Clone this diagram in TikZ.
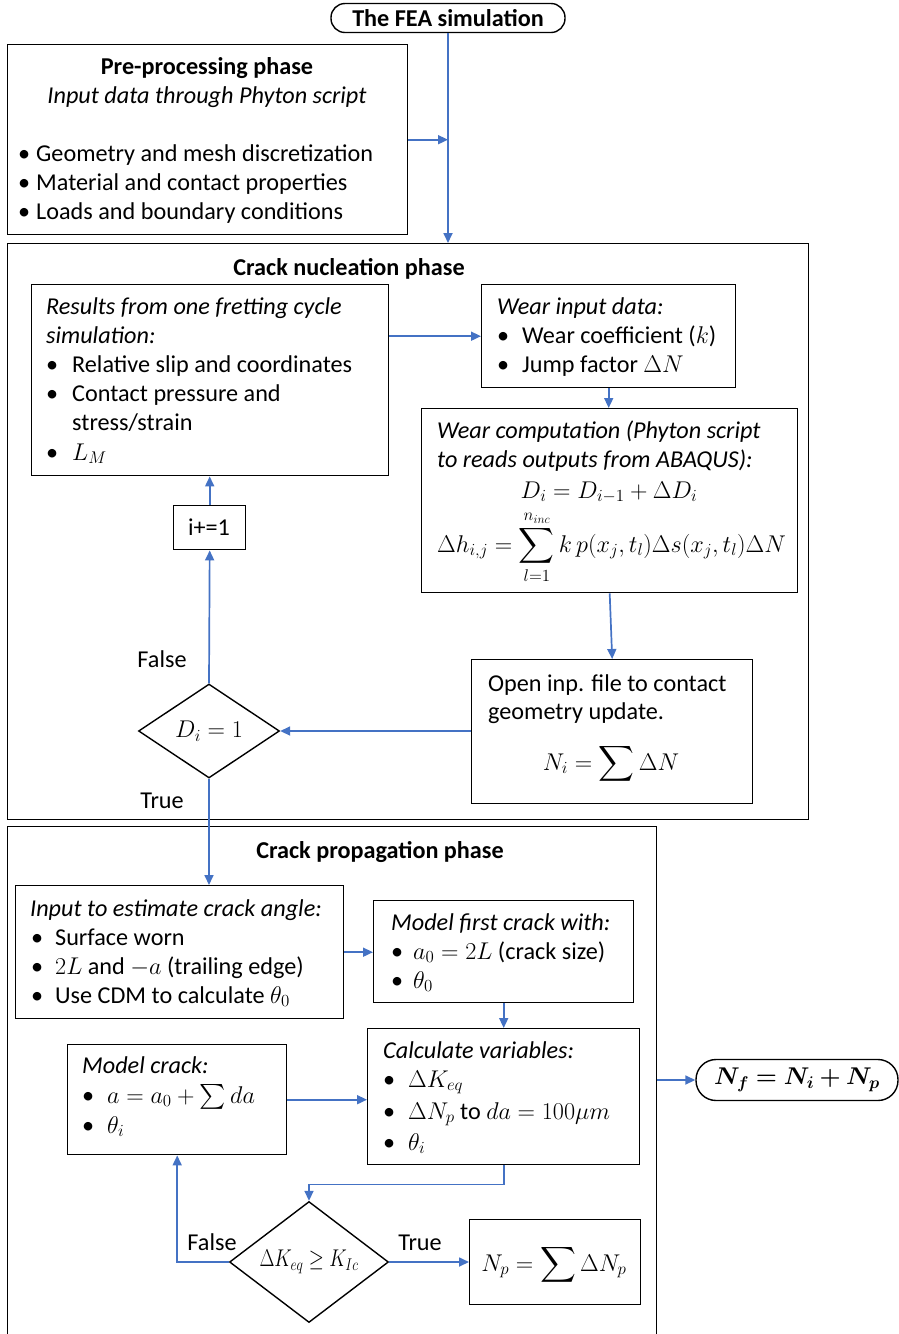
\RequirePackage{fix-cm}
\documentclass[tikz,border=0pt]{standalone}
\usepackage{amsmath}
\usepackage{bm}
\usepackage[no-math]{fontspec}
\setmainfont{Carlito}
\usetikzlibrary{arrows.meta,shapes.geometric}
\definecolor{flow}{HTML}{4472C4}
\newcommand\fs{\fontsize{24.2}{29}\selectfont}
% one line of text: name, x, baseline y, text
\newcommand\say[4]{\node[txt] (#1) at (#2,#3) {#4};}
% one bulleted line: name, x, baseline y, indent, text
\newcommand\pointline[5]{\node[txt] (#1) at (#2,#3) {\makebox[#4pt][l]{\textbullet}#5};}
\tikzset{
  frame/.style={draw, line width=1.4pt, inner sep=0pt, anchor=north west},
  term/.style={draw, line width=1.4pt, inner sep=0pt, font=\fs},
  decision/.style={draw, line width=1.4pt, diamond, aspect=1.3, inner sep=0pt, font=\fs},
  txt/.style={inner sep=0pt, anchor=base west, font=\fs},
  ctxt/.style={inner sep=0pt, anchor=base, font=\fs},
  link/.style={draw=flow, line width=1.7pt, -{Triangle[length=10pt,width=9pt]}},
}
\begin{document}
\begin{tikzpicture}[x=1pt,y=-1pt]
\useasboundingbox (0,0) rectangle (899,1334);
\clip (0,0) rectangle (899,1334);

% ---------- start ----------
\node[term, rounded corners=14pt, minimum width=234, minimum height=29] (start) at (448,18) {\textbf{The FEA simulation}};

% ---------- pre-processing ----------
\node[frame, minimum width=400, minimum height=190] (pre) at (7,44) {};
\node[ctxt] (preT) at (207,74) {\textbf{Pre-processing phase}};
\node[ctxt] (preS) at (207,103) {\textit{Input data through Phyton script}};
\pointline{preA}{18}{161}{18}{Geometry and mesh discretization}
\pointline{preB}{18}{190}{18}{Material and contact properties}
\pointline{preC}{18}{219}{18}{Loads and boundary conditions}

% ---------- crack nucleation ----------
\node[frame, minimum width=801, minimum height=576] (nuc) at (7,243) {};
\node[ctxt] (nucT) at (349,275) {\textbf{Crack nucleation phase}};

\node[frame, minimum width=357, minimum height=191] (res) at (31,284) {};
\say{resA}{46}{314}{\textit{Results from one fretting cycle}}
\say{resB}{46}{343}{\textit{simulation:}}
\pointline{resC}{46}{372}{26}{Relative slip and coordinates}
\pointline{resD}{46}{401}{26}{Contact pressure and}
\say{resE}{72}{430}{stress/strain}
\pointline{resF}{46}{460}{26}{$L_M$}

\node[frame, minimum width=254, minimum height=103] (wip) at (481,284) {};
\say{wipA}{497}{314}{\textit{Wear input data:}}
\pointline{wipB}{497}{343}{25}{Wear coefficient ($k$)}
\pointline{wipC}{497}{372}{25}{Jump factor $\Delta N$}

\node[frame, minimum width=376, minimum height=184] (wcp) at (421,408) {};
\say{wcpA}{437}{438}{\textit{Wear computation (Phyton script}}
\say{wcpB}{437}{467}{\textit{to reads outputs from ABAQUS):}}
\node[ctxt] (wcpC) at (609,498) {$D_i = D_{i-1} + \Delta D_i$};
\say{wcpD}{437}{552}{$\displaystyle \Delta h_{i,j} = \sum_{l=1}^{n_{inc}} k\,p(x_j,t_l)\Delta s(x_j,t_l)\Delta N$}

\node[frame, minimum width=281, minimum height=144] (opn) at (471,659) {};
\say{opnA}{488}{691}{Open inp. file to contact}
\say{opnB}{488}{719}{geometry update.}
\node[ctxt] (opnC) at (611,770) {$\displaystyle N_i = \sum \Delta N$};

\node[decision, minimum width=141, minimum height=94] (dia1) at (209,731) {$D_i = 1$};
\node[frame, minimum width=72, minimum height=44] (iplus) at (173,505) {};
\node[ctxt] (iplusT) at (209,535) {i+=1};

\node[ctxt] (f1) at (162,667) {False};
\node[ctxt] (t1) at (162,808) {True};

% ---------- crack propagation ----------
\node[frame, minimum width=649, minimum height=540] (prop) at (7,826) {};
\node[ctxt] (propT) at (380,858) {\textbf{Crack propagation phase}};

\node[frame, minimum width=328, minimum height=133] (inp) at (15,885) {};
\say{inpA}{30}{916}{\textit{Input to estimate crack angle:}}
\pointline{inpB}{31}{945}{24}{Surface worn}
\pointline{inpC}{31}{974}{24}{$2L$ and $-a$ (trailing edge)}
\pointline{inpD}{31}{1003}{24}{Use CDM to calculate $\theta_0$}

\node[frame, minimum width=260, minimum height=102] (mfc) at (373,900) {};
\say{mfcA}{391}{930}{\textit{Model first crack with:}}
\pointline{mfcB}{391}{959}{22}{$a_0 = 2L$ (crack size)}
\pointline{mfcC}{391}{988}{22}{$\theta_0$}

\node[frame, minimum width=272, minimum height=136] (calc) at (367,1028) {};
\say{calcA}{383}{1058}{\textit{Calculate variables:}}
\pointline{calcB}{383}{1087}{25}{$\Delta K_{eq}$}
\pointline{calcC}{383}{1119}{25}{$\Delta N_p$ to $da = 100\mu m$}
\pointline{calcD}{383}{1150}{25}{$\theta_i$}

\node[frame, minimum width=219, minimum height=110] (mc) at (67,1044) {};
\say{mcA}{82}{1073}{\textit{Model crack:}}
\pointline{mcB}{82}{1103}{25}{$a = a_0 + \sum da$}
\pointline{mcC}{82}{1133}{25}{$\theta_i$}

\node[decision, minimum width=159, minimum height=121] (dia2) at (309,1262) {\scalebox{0.8}[1]{$\Delta K_{eq} \geq K_{Ic}$}};
\node[frame, minimum width=171, minimum height=85] (np) at (469,1219) {};
\node[ctxt] (npT) at (554,1271) {$\displaystyle N_p = \sum \Delta N_p$};

\node[ctxt] (f2) at (212,1250) {False};
\node[ctxt] (t2) at (420,1250) {True};

\node[term, rounded corners=20pt, minimum width=202, minimum height=41] (nf) at (797,1080) {$\bm{N_f = N_i + N_p}$};

% ---------- connectors ----------
\draw[link] (start.south) -- (start.south |- nuc.north);
\draw[link] (pre.east) -- (pre.east -| start.south);
\draw[link] (res.east |- wip.west) -- (wip.west);
\draw[link] (wip.south) -- (wip.south |- wcp.north);
\draw[link] (wcp.south) -- (opn.north);
\draw[link] (opn.west |- dia1.east) -- (dia1.east);
\draw[link] (dia1.north) -- (iplus.south);
\draw[link] (iplus.north) -- (iplus.north |- res.south);
\draw[link] (dia1.south) -- (dia1.south |- inp.north);
\draw[link] (inp.east) -- (inp.east -| mfc.west);
\draw[link] (mfc.south) -- (mfc.south |- calc.north);
\draw[link] (mc.east) -- (mc.east -| calc.west);
\draw[link] (calc.south) -- ++(0,19) -| (dia2.north);
\draw[link] (dia2.west) -| (mc.south);
\draw[link] (dia2.east) -- (dia2.east -| np.west);
\draw[link] (prop.east |- nf.west) -- (nf.west);
\end{tikzpicture}
\end{document}
